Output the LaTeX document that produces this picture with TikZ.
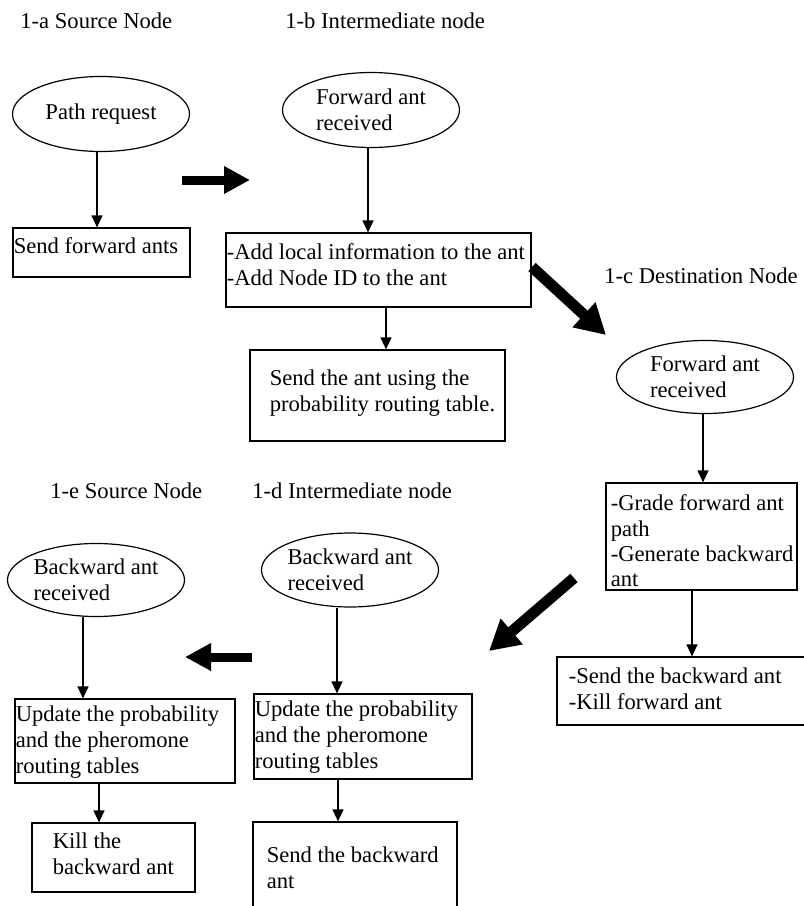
\documentclass[tikz,border=0pt]{standalone}
\usepackage{fontspec}
\setmainfont{Liberation Serif}
\usetikzlibrary{shapes.geometric,arrows.meta}

\begin{document}
\begin{tikzpicture}[x=0.5pt,y=-0.5pt,
    font=\fontsize{11.3}{13}\selectfont,
    box/.style={draw,line width=0.6pt,rectangle,inner sep=0pt},
    oval/.style={draw,line width=0.6pt,ellipse,inner sep=0pt,minimum width=88.5pt,minimum height=36.5pt,align=left},
    txt/.style={anchor=north west,inner sep=0pt,align=left},
    title/.style={anchor=base west,inner sep=0pt},
    flow/.style={line width=0.6pt,-{Triangle[length=6pt,width=5.5pt]}},
    bigarrow/.style={line width=4.5pt,-{Triangle[length=13pt,width=13pt]}},
    slantarrow/.style={line width=5.5pt,-{Triangle[length=15pt,width=16pt]}}]
    \useasboundingbox (0,0) rectangle (804,906);

    % titles
    \node[title] (t1a) at (20,28) {1-a Source Node};
    \node[title] (t1b) at (285,28) {1-b Intermediate node};
    \node[title] (t1c) at (604,283) {1-c Destination Node};
    \node[title] (t1e) at (50,498) {1-e Source Node};
    \node[title] (t1d) at (252,498) {1-d Intermediate node};

    % 1-a
    \node[oval,minimum height=37.5pt] (pr) at (101,114) {Path request};
    \node[box,minimum width=88.5pt,minimum height=24.5pt] (sfa) at (101.5,252.5) {};
    \node[txt] (sfa-t) at ([shift={(0.5pt,-5pt)}]sfa.north west) {Send forward ants};
    \draw[flow] ([xshift=-2pt]pr.south) -- ([xshift=-2pt]pr.south |- sfa.north);

    % 1-b
    \node[oval,minimum height=37.5pt] (fa1b) at (371,110) {Forward ant\\received};
    \node[box,minimum width=152.5pt,minimum height=37pt] (addinfo) at (378.5,270) {};
    \node[txt] (addinfo-t) at ([shift={(0.5pt,-5.5pt)}]addinfo.north west) {-Add local information to the ant\\-Add Node ID to the ant};
    \node[box,minimum width=127.5pt,minimum height=45.5pt] (sendant) at (377.5,395.5) {};
    \node[txt] (sendant-t) at ([shift={(10pt,-10pt)}]sendant.north west) {Send the ant using the\\probability routing table.};
    \draw[flow] ([xshift=-1.5pt]fa1b.south) -- ([xshift=-1.5pt]fa1b.south |- addinfo.north);
    \draw[flow] ([xshift=3.75pt]addinfo.south) -- ([xshift=3.75pt]addinfo.south |- sendant.north);

    % 1-c
    \node[oval] (fa1c) at (705,377) {Forward ant\\received};
    \node[box,minimum width=95.5pt,minimum height=53.5pt] (grade) at (701.5,536.5) {};
    \node[txt,font=\fontsize{11.3}{12.7}\selectfont] (grade-t) at ([shift={(2.5pt,-6pt)}]grade.north west) {-Grade forward ant\\path\\-Generate backward\\ant};
    \node[box,minimum width=127.5pt,minimum height=34pt] (sb1c) at (684.5,691) {};
    \node[txt] (sb1c-t) at ([shift={(6pt,-5.5pt)}]sb1c.north west) {-Send the backward ant\\-Kill forward ant};
    \draw[flow] ([xshift=-1pt]fa1c.south) -- ([xshift=-1pt]fa1c.south |- grade.north);
    \draw[flow] ([xshift=-4.75pt]grade.south) -- ([xshift=-4.75pt]grade.south |- sb1c.north);

    % 1-d
    \node[oval,minimum height=37pt] (ba1d) at (350,570) {Backward ant\\received};
    \node[box,minimum width=109pt,minimum height=42.5pt] (upd1d) at (363,736.5) {};
    \node[txt] (upd1d-t) at ([shift={(0.5pt,-3.5pt)}]upd1d.north west) {Update the probability\\and the pheromone\\routing tables};
    \node[box,minimum width=102pt,minimum height=56.5pt] (sb1d) at (355,878.5) {};
    \node[txt] (sb1d-t) at ([shift={(7pt,-12.5pt)}]sb1d.north west) {Send the backward\\ant};
    \draw[flow] ([xshift=-6.5pt]ba1d.south) -- ([xshift=-6.5pt]ba1d.south |- upd1d.north);
    \draw[flow] ([xshift=-12.5pt]upd1d.south) -- ([xshift=-12.5pt]upd1d.south |- sb1d.north);

    % 1-e
    \node[oval] (ba1e) at (96,580) {Backward ant\\received};
    \node[box,minimum width=110pt,minimum height=42pt] (upd1e) at (125,741) {};
    \node[txt] (upd1e-t) at ([shift={(0.5pt,-3.5pt)}]upd1e.north west) {Update the probability\\and the pheromone\\routing tables};
    \node[box,minimum width=81.5pt,minimum height=34.5pt] (kill) at (113.5,857.5) {};
    \node[txt] (kill-t) at ([shift={(10.5pt,-5pt)}]kill.north west) {Kill the\\backward ant};
    \draw[flow] ([xshift=-6.5pt]ba1e.south) -- ([xshift=-6.5pt]ba1e.south |- upd1e.north);
    \draw[flow] ([xshift=-13pt]upd1e.south) -- ([xshift=-13pt]upd1e.south |- kill.north);

    % big arrows between the stages
    \coordinate (ab-tail) at (182,180);
    \coordinate (ab-tip) at (250,180);
    \coordinate (bc-tail) at (532,267);
    \coordinate (bc-tip) at (606,335);
    \coordinate (cd-tail) at (574,578);
    \coordinate (cd-tip) at (489,651);
    \coordinate (de-tail) at (252,657);
    \coordinate (de-tip) at (185,657);
    \draw[bigarrow] (ab-tail) -- (ab-tip);
    \draw[slantarrow] (bc-tail) -- (bc-tip);
    \draw[slantarrow] (cd-tail) -- (cd-tip);
    \draw[bigarrow] (de-tail) -- (de-tip);
\end{tikzpicture}
\end{document}
